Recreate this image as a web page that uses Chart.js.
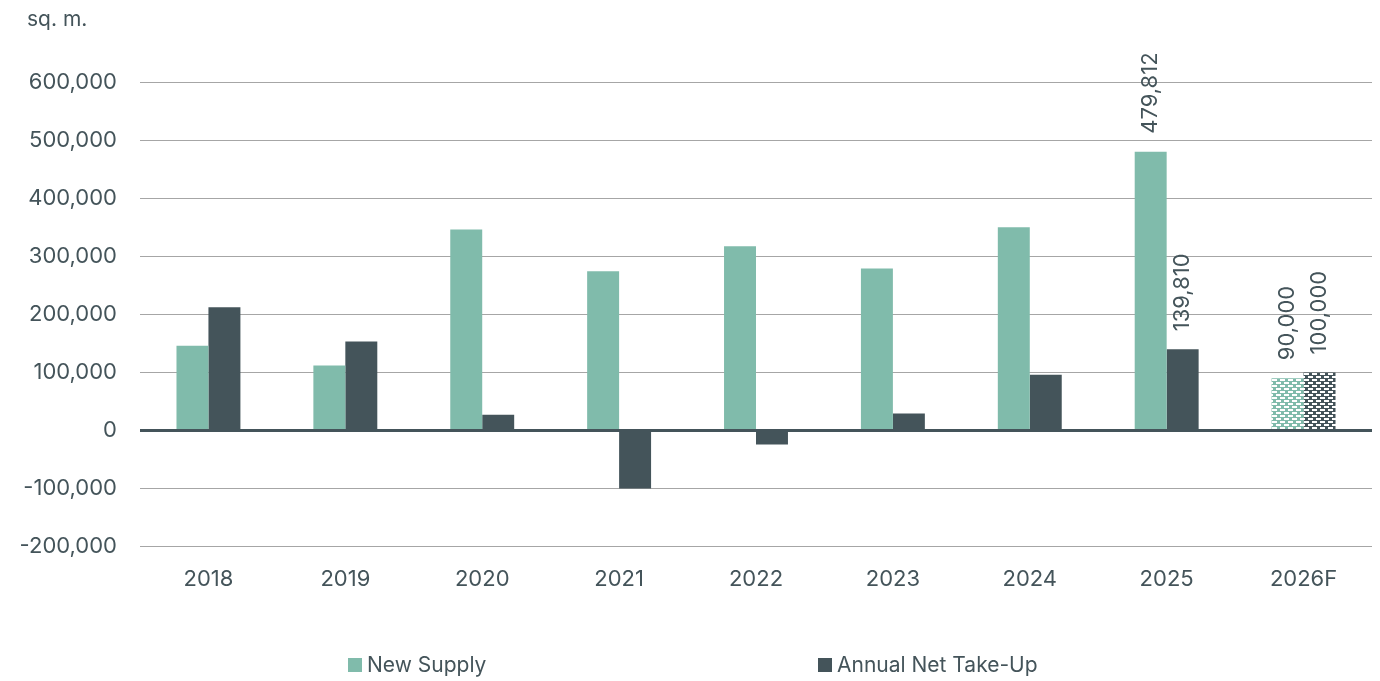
<!DOCTYPE html>
<html>
<head>
<meta charset="utf-8">
<script src="https://cdn.jsdelivr.net/npm/chart.js@4.4.1/dist/chart.umd.min.js"></script>
<style>
    html, body { margin: 0; padding: 0; background: #ffffff; }
    #wrap { position: relative; width: 1380px; height: 681px; }
    #unit {
        position: absolute; left: 27px; top: 6px;
        font: 21px Inter, sans-serif; color: #44545a;
    }
    #legend {
        position: absolute; left: 0; top: 652px; width: 1380px; height: 30px;
        font: 21px Inter, sans-serif; color: #44545a;
    }
    .item { position: absolute; display: flex; align-items: center; }
    .box { width: 14px; height: 14px; margin-right: 5px; }
</style>
</head>
<body>
<div id="wrap">
    <canvas id="chart" width="1380" height="681"></canvas>
    <div id="unit">sq. m.</div>
    <div id="legend">
        <div class="item" style="left:348px"><span class="box" style="background:#80bbab"></span>New Supply</div>
        <div class="item" style="left:818px"><span class="box" style="background:#44545a"></span>Annual Net Take-Up</div>
    </div>
</div>
<script>
const years = ['2018', '2019', '2020', '2021', '2022', '2023', '2024', '2025', '2026F'];
const newSupply = [146000, 112000, 346000, 274000, 317000, 279000, 350000, 479812, 90000];
const netTakeUp = [212000, 153000, 27000, -100000, -24000, 29000, 96000, 139810, 100000];
// only these years carry a value label
const labelledYears = ['2025', '2026F'];

const SUPPLY_COLOR = '#80bbab';
const TAKEUP_COLOR = '#44545a';
const TEXT_COLOR = '#44545a';

// brick-like dashed fill used for the forecast year
function makePattern(color) {
    const c = document.createElement('canvas');
    c.width = 8;
    c.height = 6;
    const g = c.getContext('2d');
    g.fillStyle = color;
    g.fillRect(0, 0, 8, 6);
    g.fillStyle = '#ffffff';
    g.fillRect(0, 1, 5, 2);
    g.fillRect(4, 4, 5, 2);
    g.fillRect(-4, 4, 5, 2);
    return g.createPattern(c, 'repeat');
}

function fills(color) {
    return years.map(y => y === '2026F' ? makePattern(color) : color);
}

const valueLabels = {
    id: 'valueLabels',
    afterDatasetsDraw(chart) {
        const ctx = chart.ctx;
        ctx.save();
        ctx.font = '22px Inter, sans-serif';
        ctx.fillStyle = TEXT_COLOR;
        ctx.textAlign = 'left';
        ctx.textBaseline = 'middle';
        chart.data.datasets.forEach((ds, i) => {
            chart.getDatasetMeta(i).data.forEach((bar, j) => {
                if (!labelledYears.includes(years[j])) return;
                ctx.save();
                ctx.translate(bar.x, bar.y - 18);
                ctx.rotate(-Math.PI / 2);
                ctx.fillText(ds.data[j].toLocaleString('en-US'), 0, 0);
                ctx.restore();
            });
        });
        ctx.restore();
    }
};

new Chart(document.getElementById('chart'), {
    type: 'bar',
    data: {
        labels: years,
        datasets: [
            { label: 'New Supply', data: newSupply, backgroundColor: fills(SUPPLY_COLOR) },
            { label: 'Annual Net Take-Up', data: netTakeUp, backgroundColor: fills(TAKEUP_COLOR) }
        ]
    },
    options: {
        responsive: false,
        animation: false,
        layout: { padding: { top: 82, right: 8, bottom: 76, left: 0 } },
        datasets: {
            bar: { barPercentage: 1, categoryPercentage: 0.467 }
        },
        plugins: {
            legend: { display: false },
            tooltip: { enabled: false }
        },
        scales: {
            x: {
                grid: { display: false },
                border: { display: false },
                ticks: {
                    color: TEXT_COLOR,
                    font: { family: 'Inter', size: 22 },
                    padding: 12
                }
            },
            y: {
                min: -200000,
                max: 600000,
                afterFit(scale) { scale.width = 140; },
                border: { display: false },
                grid: {
                    drawTicks: false,
                    color: ctx => ctx.tick && ctx.tick.value === 0 ? TAKEUP_COLOR : '#a6a6a6',
                    lineWidth: ctx => ctx.tick && ctx.tick.value === 0 ? 3 : 1,
                    z: -1
                },
                ticks: {
                    stepSize: 100000,
                    color: TEXT_COLOR,
                    font: { family: 'Inter', size: 22 },
                    padding: 23,
                    callback: v => v.toLocaleString('en-US')
                }
            }
        }
    },
    plugins: [valueLabels]
});
</script>
</body>
</html>
